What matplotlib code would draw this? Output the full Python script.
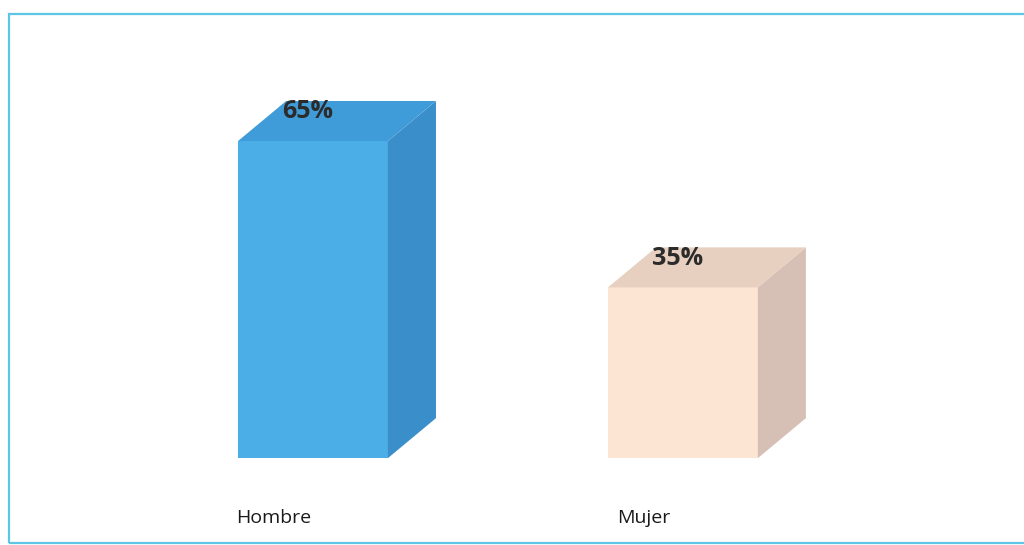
import matplotlib.pyplot as plt
from matplotlib.patches import Polygon, Rectangle

categories = ["Hombre", "Mujer"]
values = [65, 35]
labels = ["65%", "35%"]
front_colors = ["#4BAEE6", "#FCE5D2"]
side_colors = ["#3A8FCB", "#D6C0B6"]
top_colors = ["#409CD8", "#E8D0C0"]

width = 0.405
dx, dy = 0.13, 8.2

fig = plt.figure(figsize=(10.24, 5.45), dpi=100)
ax = fig.add_axes([0, 0, 1, 1])
ax.set_xlim(-0.846, 1.922)
ax.set_ylim(-17.8, 93.9)
ax.axis("off")

xs = range(len(categories))
ax.bar(xs, values, width=width, color=front_colors, zorder=2)

for x, v, sc, tc, lab, cat in zip(xs, values, side_colors, top_colors, labels, categories):
    l, r = x - width / 2, x + width / 2
    side = Polygon([(r, 0), (r + dx, dy), (r + dx, v + dy), (r, v)], closed=True,
                   facecolor=sc, edgecolor="none", zorder=2)
    top = Polygon([(l, v), (r, v), (r + dx, v + dy), (l + dx, v + dy)], closed=True,
                  facecolor=tc, edgecolor="none", zorder=2)
    ax.add_patch(side)
    ax.add_patch(top)
    ax.text(x - 0.015, v + 6.0, lab, ha="center", va="center", fontsize=18,
            fontweight="bold", color="#2b2b2b", family="Open Sans", zorder=3)
    ax.text(x - 0.105, -12.3, cat, ha="center", va="center", fontsize=14,
            color="#1a1a1a", family="Open Sans")

# frame around the chart
frame = Rectangle((9 / 1024, 2 / 545), 1.05, 529 / 545, transform=fig.transFigure,
                  fill=False, edgecolor="#5CC6E4", linewidth=1.6, clip_on=False)
fig.patches.append(frame)

fig.savefig("out.png", dpi=100, facecolor="white")
